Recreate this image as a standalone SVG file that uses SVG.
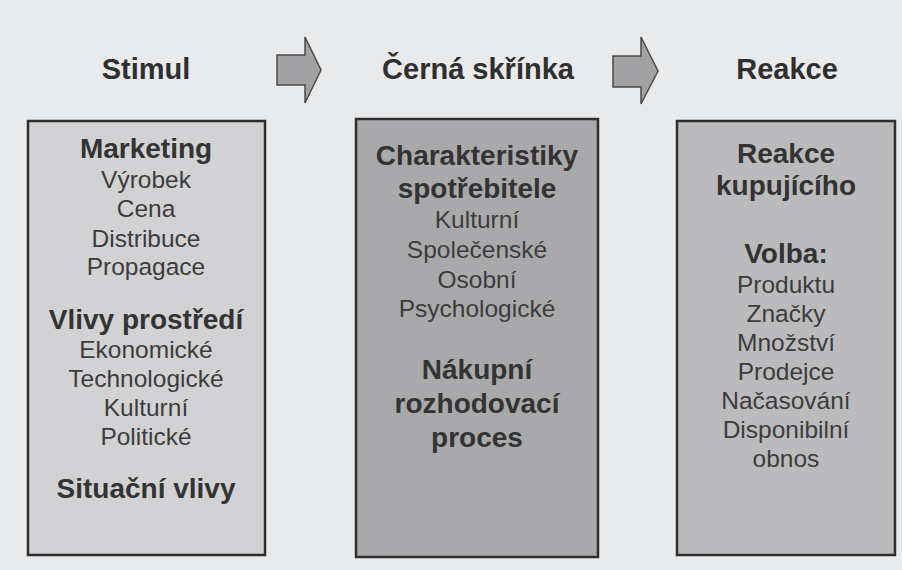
<svg xmlns="http://www.w3.org/2000/svg" width="902" height="570" viewBox="0 0 902 570">
<style>
.bg{fill:#e9eaec}
.box{stroke:#2e2e2e;stroke-width:2.5}
.hdr{font-family:"Liberation Sans",Arial,sans-serif;font-weight:bold;font-size:29px;fill:#2f2f2f;text-anchor:middle}
.b{font-family:"Liberation Sans",Arial,sans-serif;font-weight:bold;font-size:28px;fill:#333;text-anchor:middle}
.r{font-family:"Liberation Sans",Arial,sans-serif;font-size:24.5px;fill:#3c3c3c;text-anchor:middle}
.arrow{fill:#a2a2a4;stroke:#4a4a4a;stroke-width:1.5;stroke-linejoin:miter}
</style>
<rect class="bg" x="0" y="0" width="902" height="570"/>
<g id="headers">
<text class="hdr" x="146" y="79">Stimul</text>
<text class="hdr" x="478" y="79">Černá skřínka</text>
<text class="hdr" x="787" y="79">Reakce</text>
</g>
<g id="connectors">
<polygon class="arrow" points="277,55 305,55 305,37 321,70 305,103 305,85 277,85"/>
<polygon class="arrow" points="613,56 641,56 641,37 658,71 641,104 641,87 613,87"/>
</g>
<g id="stimul">
<rect class="box" x="28" y="121" width="237" height="434" fill="#d2d2d4"/>
<text class="b" x="146" y="158">Marketing</text>
<text class="r" x="146" y="188">Výrobek</text>
<text class="r" x="146" y="217">Cena</text>
<text class="r" x="146" y="247">Distribuce</text>
<text class="r" x="146" y="275">Propagace</text>
<text class="b" x="146" y="329">Vlivy prostředí</text>
<text class="r" x="146" y="358">Ekonomické</text>
<text class="r" x="146" y="387">Technologické</text>
<text class="r" x="146" y="416">Kulturní</text>
<text class="r" x="146" y="445">Politické</text>
<text class="b" x="146" y="498">Situační vlivy</text>
</g>
<g id="cerna-skrinka">
<rect class="box" x="356" y="119" width="242" height="438" fill="#a9a9ab"/>
<text class="b" x="477" y="165">Charakteristiky</text>
<text class="b" x="477" y="198">spotřebitele</text>
<text class="r" x="477" y="228">Kulturní</text>
<text class="r" x="477" y="258">Společenské</text>
<text class="r" x="477" y="288">Osobní</text>
<text class="r" x="477" y="317">Psychologické</text>
<text class="b" x="477" y="379">Nákupní</text>
<text class="b" x="477" y="413">rozhodovací</text>
<text class="b" x="477" y="447">proces</text>
</g>
<g id="reakce">
<rect class="box" x="677" y="121" width="218" height="434" fill="#bbbbbd"/>
<text class="b" x="786" y="163">Reakce</text>
<text class="b" x="786" y="195">kupujícího</text>
<text class="b" x="786" y="263">Volba:</text>
<text class="r" x="786" y="293">Produktu</text>
<text class="r" x="786" y="322">Značky</text>
<text class="r" x="786" y="351">Množství</text>
<text class="r" x="786" y="380">Prodejce</text>
<text class="r" x="786" y="409">Načasování</text>
<text class="r" x="786" y="438">Disponibilní</text>
<text class="r" x="786" y="467">obnos</text>
</g>
</svg>
